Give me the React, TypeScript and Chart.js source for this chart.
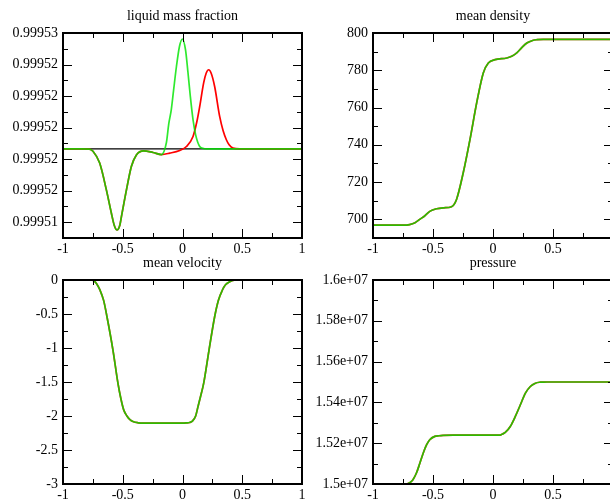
import React, { useEffect, useRef } from "react";
import { Chart, registerables } from "chart.js";
Chart.register(...registerables);

const FONT = "'Liberation Serif', 'Times New Roman', Times, serif";

// shared x axis ticks
const X_MAJOR = [-1, -0.5, 0, 0.5, 1];
const X_MINOR = [-0.75, -0.25, 0.25, 0.75];

// ---------- liquid mass fraction ----------
const LMF_Y_MAJOR = [0.999514, 0.999516, 0.999518, 0.99952, 0.999522, 0.999524, 0.999526];
const LMF_Y_MINOR = [0.999513, 0.999515, 0.999517, 0.999519, 0.999521, 0.999523, 0.999525];
const LMF_INIT_X = [-1, 1];
const LMF_INIT_Y = [0.99951865, 0.99951865];
const LMF_GREEN_X = [-1, -0.85, -0.78, -0.749, -0.693, -0.637, -0.595, -0.572, -0.548, -0.524, -0.511, -0.469, -0.428, -0.386, -0.325, -0.247, -0.177, -0.135, -0.115, -0.094, -0.075, -0.051, -0.025, -0.001, 0.025, 0.046, 0.065, 0.088, 0.11, 0.144, 0.17, 0.2, 0.3, 1];
const LMF_GREEN_Y = [0.99951865, 0.99951865, 0.99951864, 0.9995185, 0.99951775, 0.99951605, 0.99951457, 0.99951383, 0.99951351, 0.99951383, 0.99951436, 0.99951605, 0.99951753, 0.99951827, 0.99951853, 0.99951842, 0.99951829, 0.99951904, 0.99952024, 0.99952113, 0.99952234, 0.99952386, 0.99952516, 0.99952562, 0.99952494, 0.99952348, 0.99952202, 0.9995205, 0.99951954, 0.9995188, 0.99951869, 0.99951865, 0.99951865, 0.99951865];
const LMF_RED_X = [-1, -0.85, -0.78, -0.749, -0.693, -0.637, -0.595, -0.572, -0.548, -0.524, -0.511, -0.469, -0.428, -0.386, -0.325, -0.247, -0.177, -0.107, -0.023, 0.033, 0.088, 0.12, 0.144, 0.177, 0.198, 0.219, 0.24, 0.269, 0.311, 0.34, 0.367, 0.39, 0.423, 0.48, 1];
const LMF_RED_Y = [0.99951865, 0.99951865, 0.99951864, 0.9995185, 0.99951775, 0.99951605, 0.99951457, 0.99951383, 0.99951351, 0.99951383, 0.99951436, 0.99951605, 0.99951753, 0.99951827, 0.99951853, 0.99951842, 0.99951829, 0.99951838, 0.99951855, 0.9995188, 0.99951944, 0.99952037, 0.99952134, 0.99952284, 0.99952345, 0.99952367, 0.99952345, 0.99952261, 0.99952071, 0.9995198, 0.99951923, 0.99951891, 0.9995187, 0.99951865, 0.99951865];

// ---------- mean density ----------
const DEN_Y_MAJOR = [700, 720, 740, 760, 780, 800];
const DEN_Y_MINOR = [690, 710, 730, 750, 770, 790];
const DEN_X = [-1, -0.75, -0.695, -0.65, -0.611, -0.57, -0.527, -0.47, -0.41, -0.346, -0.304, -0.248, -0.192, -0.136, -0.081, -0.039, 0.017, 0.115, 0.16, 0.198, 0.24, 0.282, 0.33, 0.366, 0.42, 1];
const DEN_Y = [696.9, 696.9, 697.2, 698.2, 700, 701.8, 704.3, 705.7, 706.2, 706.8, 710.7, 725, 742.8, 762.5, 778.6, 783.9, 785.7, 786.6, 787.6, 789.3, 792.2, 794.6, 796.0, 796.4, 796.6, 796.6];

// ---------- mean velocity ----------
const VEL_Y_MAJOR = [-3, -2.5, -2, -1.5, -1, -0.5, 0];
const VEL_Y_MINOR = [-2.75, -2.25, -1.75, -1.25, -0.75, -0.25];
const VEL_X = [-1, -0.76, -0.74, -0.72, -0.69, -0.66, -0.632, -0.582, -0.54, -0.515, -0.492, -0.465, -0.442, -0.41, -0.37, -0.33, 0.0, 0.03, 0.06, 0.083, 0.11, 0.13, 0.15, 0.177, 0.222, 0.269, 0.3, 0.334, 0.36, 0.395, 0.42, 0.45, 1];
const VEL_Y = [0, 0, -0.015, -0.05, -0.15, -0.3, -0.54, -1.03, -1.52, -1.75, -1.91, -2.0, -2.05, -2.085, -2.1, -2.105, -2.105, -2.102, -2.095, -2.075, -2.0, -1.86, -1.72, -1.52, -1.03, -0.54, -0.3, -0.147, -0.07, -0.025, -0.005, 0, 0];

// ---------- pressure ----------
const PRE_Y_MAJOR = [15000000, 15200000, 15400000, 15600000, 15800000, 16000000];
const PRE_Y_MINOR = [15100000, 15300000, 15500000, 15700000, 15900000];
const PRE_X = [-1, -0.722, -0.705, -0.69, -0.667, -0.638, -0.609, -0.581, -0.553, -0.527, -0.485, -0.45, -0.416, -0.332, 0.059, 0.08, 0.102, 0.144, 0.186, 0.228, 0.27, 0.311, 0.353, 0.395, 0.42, 0.45, 1];
const PRE_Y = [15000000, 15000000, 15003000, 15008000, 15021200, 15053800, 15102800, 15151700, 15192500, 15217000, 15233300, 15236500, 15238200, 15239800, 15240000, 15245500, 15252900, 15282200, 15331200, 15388300, 15445400, 15478000, 15494300, 15499200, 15499800, 15500000, 15500000];

const GREEN = "rgba(0,228,0,0.82)";
const RED = "#ff0000";
const BLACK = "#000000";

type Series = { xs: number[]; ys: number[]; color: string; width: number };

type PanelProps = {
  title: string;
  left: number;
  top: number;
  width: number;
  height: number;
  area: { l: number; t: number; r: number; b: number };
  yMin: number;
  yMax: number;
  yMajor: number[];
  yMinor: number[];
  yFmt: (v: number) => string;
  series: Series[];
};

function expFmt(v: number): string {
  const s = v.toExponential();
  const [m, e] = s.split("e");
  const sign = e[0];
  const digits = e.slice(1).padStart(2, "0");
  return `${m}e${sign}${digits}`;
}

function Panel(p: PanelProps) {
  const ref = useRef<HTMLCanvasElement>(null);
  useEffect(() => {
    const canvas = ref.current!;
    const { l, t, r, b } = p.area;
    const frame = {
      id: "frame",
      afterDraw(chart: any) {
        const ctx = chart.ctx as CanvasRenderingContext2D;
        const a = chart.chartArea;
        const xs = chart.scales.x;
        const ys = chart.scales.y;
        ctx.save();
        ctx.strokeStyle = "#000";
        ctx.lineWidth = 1;
        const xTicks = (vals: number[], len: number) => {
          vals.forEach((v) => {
            const X = Math.round(xs.getPixelForValue(v)) + 0.5;
            ctx.beginPath();
            ctx.moveTo(X, a.bottom);
            ctx.lineTo(X, a.bottom - len);
            ctx.moveTo(X, a.top);
            ctx.lineTo(X, a.top + len);
            ctx.stroke();
          });
        };
        const yTicks = (vals: number[], len: number) => {
          vals.forEach((v) => {
            const Y = Math.round(ys.getPixelForValue(v)) + 0.5;
            ctx.beginPath();
            ctx.moveTo(a.left, Y);
            ctx.lineTo(a.left + len, Y);
            ctx.moveTo(a.right, Y);
            ctx.lineTo(a.right - len, Y);
            ctx.stroke();
          });
        };
        xTicks(X_MAJOR, 9);
        xTicks(X_MINOR, 5);
        yTicks(p.yMajor, 9);
        yTicks(p.yMinor, 5);
        ctx.lineWidth = 2;
        ctx.strokeRect(a.left, a.top, a.right - a.left, a.bottom - a.top);
        ctx.fillStyle = "#000";
        ctx.font = `14px ${FONT}`;
        ctx.textAlign = "center";
        ctx.textBaseline = "alphabetic";
        ctx.fillText(p.title, (a.left + a.right) / 2, a.top - 13);
        ctx.restore();
      },
    };
    const chart = new Chart(canvas, {
      type: "line",
      data: {
        datasets: p.series.map((s) => ({
          data: s.xs.map((x, i) => ({ x, y: s.ys[i] })),
          borderColor: s.color,
          borderWidth: s.width,
          pointRadius: 0,
          fill: false,
          cubicInterpolationMode: "monotone" as const,
        })),
      },
      options: {
        animation: false,
        responsive: false,
        events: [],
        layout: { padding: { left: 0, top: t, right: p.width - r, bottom: 0 } },
        plugins: { legend: { display: false }, tooltip: { enabled: false }, title: { display: false } },
        scales: {
          x: {
            type: "linear",
            min: -1,
            max: 1,
            grid: { display: false, drawTicks: false },
            border: { display: false },
            afterBuildTicks: (scale: any) => {
              scale.ticks = X_MAJOR.map((v) => ({ value: v }));
            },
            afterFit: (scale: any) => {
              scale.height = p.height - b;
            },
            ticks: {
              autoSkip: false,
              maxRotation: 0,
              padding: 3,
              color: "#000",
              font: { family: FONT, size: 14 },
              callback: (v: any) => String(v),
            },
          },
          y: {
            type: "linear",
            min: p.yMin,
            max: p.yMax,
            grid: { display: false, drawTicks: false },
            border: { display: false },
            afterBuildTicks: (scale: any) => {
              scale.ticks = p.yMajor.map((v) => ({ value: v }));
            },
            afterFit: (scale: any) => {
              scale.width = l;
            },
            ticks: {
              autoSkip: false,
              padding: 5,
              color: "#000",
              font: { family: FONT, size: 14 },
              callback: (v: any) => p.yFmt(Number(v)),
            },
          },
        },
      } as any,
      plugins: [frame],
    });
    return () => chart.destroy();
  }, []);
  return (
    <canvas
      ref={ref}
      width={p.width}
      height={p.height}
      style={{ position: "absolute", left: p.left, top: p.top, width: p.width, height: p.height }}
    />
  );
}

const pair = (xs: number[], ys: number[]): Series[] => [
  { xs, ys, color: GREEN, width: 1.7 },
  { xs, ys, color: RED, width: 1.7 },
];

export default function App() {
  return (
    <div
      style={{
        position: "fixed",
        left: 0,
        top: 0,
        width: 610,
        height: 501,
        overflow: "hidden",
        background: "#fff",
      }}
    >
      <Panel
        title="liquid mass fraction"
        left={0}
        top={0}
        width={310}
        height={262}
        area={{ l: 63, t: 33, r: 302, b: 238 }}
        yMin={0.999513}
        yMax={0.999526}
        yMajor={LMF_Y_MAJOR}
        yMinor={LMF_Y_MINOR}
        yFmt={(v) => v.toFixed(5)}
        series={[
          { xs: LMF_GREEN_X, ys: LMF_GREEN_Y, color: GREEN, width: 1.7 },
          { xs: LMF_RED_X, ys: LMF_RED_Y, color: RED, width: 1.7 },
          { xs: LMF_INIT_X, ys: LMF_INIT_Y, color: BLACK, width: 1.3 },
        ]}
      />
      <Panel
        title="mean density"
        left={310}
        top={0}
        width={310}
        height={262}
        area={{ l: 63, t: 33, r: 303, b: 238 }}
        yMin={690}
        yMax={800}
        yMajor={DEN_Y_MAJOR}
        yMinor={DEN_Y_MINOR}
        yFmt={(v) => String(v)}
        series={pair(DEN_X, DEN_Y)}
      />
      <Panel
        title="mean velocity"
        left={0}
        top={250}
        width={310}
        height={251}
        area={{ l: 63, t: 30, r: 302, b: 234 }}
        yMin={-3}
        yMax={0}
        yMajor={VEL_Y_MAJOR}
        yMinor={VEL_Y_MINOR}
        yFmt={(v) => String(v)}
        series={pair(VEL_X, VEL_Y)}
      />
      <Panel
        title="pressure"
        left={310}
        top={250}
        width={310}
        height={251}
        area={{ l: 63, t: 30, r: 303, b: 234 }}
        yMin={15000000}
        yMax={16000000}
        yMajor={PRE_Y_MAJOR}
        yMinor={PRE_Y_MINOR}
        yFmt={expFmt}
        series={pair(PRE_X, PRE_Y)}
      />
    </div>
  );
}
